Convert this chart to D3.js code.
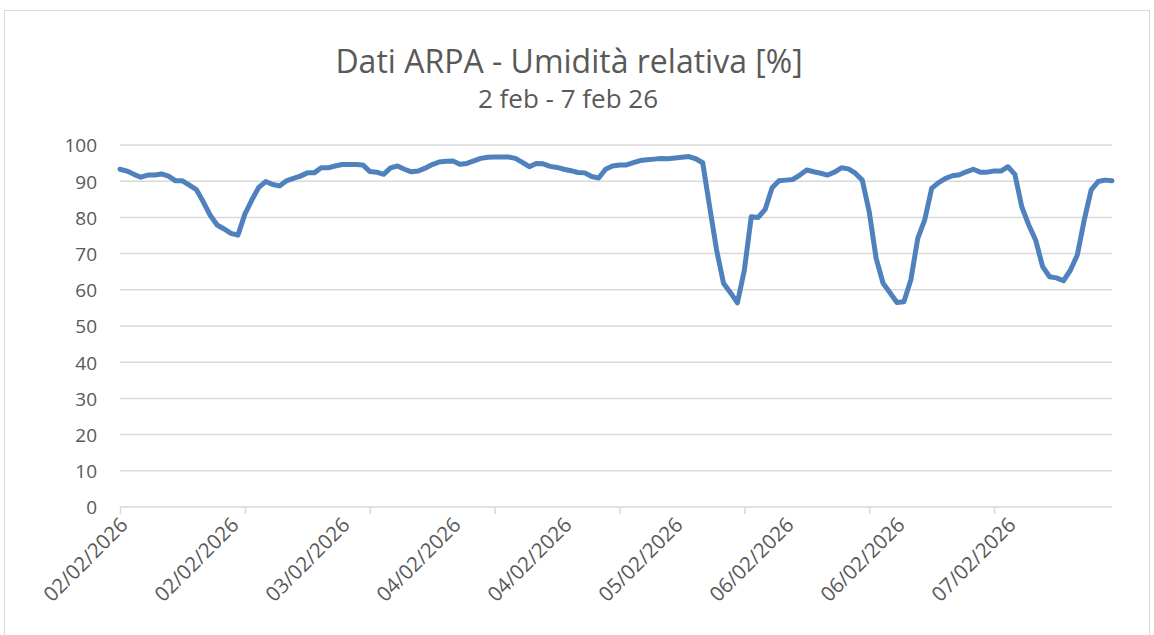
<!DOCTYPE html>
<html>
<head>
<meta charset="utf-8" />
<title>Dati ARPA - Umidità relativa</title>
<script src="https://cdn.jsdelivr.net/npm/d3@7/dist/d3.min.js"></script>
<style>
    body { margin: 0; background: #fff; overflow: hidden; }
    text { font-family: "Open Sans", "Noto Sans", sans-serif; fill: #595959; }
</style>
</head>
<body>
<div id="chart"></div>
<script>
    // titoli
    var title = "Dati ARPA - Umidità relativa [%]";
    var subtitle = "2 feb - 7 feb 26";

    // misure orarie dal 02/02/2026 00:00 (144 ore)
    var startDate = new Date(2026, 1, 2, 0, 0);
    var humidity = [
        93.3, 92.8, 91.9, 91.1, 91.7, 91.7, 92.0, 91.4, 90.1, 90.1, 88.9, 87.7,
        84.3, 80.6, 77.9, 76.8, 75.6, 75.1, 80.9, 84.8, 88.3, 89.9, 89.1, 88.7,
        90.1, 90.8, 91.4, 92.3, 92.3, 93.7, 93.7, 94.2, 94.6, 94.6, 94.6, 94.5,
        92.7, 92.5, 91.9, 93.7, 94.2, 93.3, 92.6, 92.8, 93.6, 94.6, 95.3, 95.5,
        95.6, 94.7, 94.9, 95.6, 96.3, 96.6, 96.7, 96.7, 96.7, 96.3, 95.2, 94.0,
        94.9, 94.8, 94.1, 93.8, 93.3, 92.9, 92.4, 92.3, 91.3, 90.9, 93.3, 94.2,
        94.5, 94.5, 95.1, 95.7, 95.9, 96.1, 96.3, 96.2, 96.4, 96.6, 96.8, 96.2,
        95.1, 82.9, 71.0, 61.8, 59.2, 56.4, 65.4, 80.2, 80.0, 82.2, 88.2, 90.1,
        90.3, 90.5, 91.7, 93.1, 92.6, 92.2, 91.7, 92.5, 93.7, 93.4, 92.2, 90.3,
        81.6, 68.7, 61.8, 59.2, 56.5, 56.7, 62.7, 74.2, 79.3, 88.0, 89.6, 90.8,
        91.5, 91.8, 92.6, 93.3, 92.5, 92.5, 92.8, 92.8, 94.0, 91.9, 82.9, 77.9,
        73.7, 66.4, 63.6, 63.3, 62.5, 65.4, 69.6, 79.3, 87.6, 89.9, 90.3, 90.1
    ];
    var yTicks = [0, 10, 20, 30, 40, 50, 60, 70, 80, 90, 100];
    var labelEvery = 16;   // etichette ogni 16 ore
    var tickEvery = 18;    // segni di graduazione ogni 18 ore

    var categories = humidity.map(function (d, i) { return d3.timeHour.offset(startDate, i); });
    var fmt = d3.timeFormat("%d/%m/%Y");

    var width = 1154, height = 635;
    var margin = { left: 120, right: 42, top: 145, bottom: 128 };

    var svg = d3.select("#chart").append("svg")
        .attr("width", width)
        .attr("height", height);

    // bordo area grafico
    svg.append("rect")
        .attr("x", 4.5).attr("y", 10.5)
        .attr("width", 1145).attr("height", 640)
        .attr("fill", "none")
        .attr("stroke", "#d9d9d9")
        .attr("stroke-width", 1);

    var x = d3.scalePoint()
        .domain(d3.range(humidity.length))
        .range([margin.left, width - margin.right]);

    var y = d3.scaleLinear()
        .domain([0, 100])
        .range([height - margin.bottom, margin.top]);

    // griglia orizzontale
    svg.append("g")
        .selectAll("line")
        .data(yTicks.filter(function (d) { return d > 0; }))
        .enter().append("line")
        .attr("x1", margin.left).attr("x2", width - margin.right)
        .attr("y1", function (d) { return y(d); })
        .attr("y2", function (d) { return y(d); })
        .attr("stroke", "#d9d9d9")
        .attr("stroke-width", 1.5);

    // asse y
    var yAxis = svg.append("g")
        .attr("transform", "translate(" + margin.left + ",0)")
        .call(d3.axisLeft(y).tickValues(yTicks).tickSize(0).tickPadding(23));
    yAxis.select(".domain").remove();
    yAxis.selectAll("text")
        .style("font-size", "19px")
        .attr("fill", "#595959")
        .attr("dy", "0.36em");

    // asse x: segni
    var xTicks = d3.range(0, humidity.length, tickEvery);
    var xAxisTicks = svg.append("g")
        .attr("transform", "translate(0," + y(0) + ")")
        .call(d3.axisBottom(x).tickValues(xTicks).tickSize(7).tickFormat(""));
    xAxisTicks.select(".domain")
        .attr("d", "M" + margin.left + ",0H" + (width - margin.right))
        .attr("stroke", "#d9d9d9")
        .attr("stroke-width", 1.5);
    xAxisTicks.selectAll(".tick line")
        .attr("stroke", "#d9d9d9")
        .attr("stroke-width", 1.5);

    // asse x: etichette ruotate
    var xLabels = d3.range(0, humidity.length, labelEvery);
    svg.append("g")
        .selectAll("text")
        .data(xLabels)
        .enter().append("text")
        .attr("transform", function (d) {
            return "translate(" + (x(d) - 1) + "," + (y(0) + 9) + ") rotate(-45)";
        })
        .attr("text-anchor", "end")
        .attr("dy", "0.7em")
        .style("font-size", "20.5px")
        .text(function (d) { return fmt(categories[d]); });

    // linea
    var line = d3.line()
        .x(function (d, i) { return x(i); })
        .y(function (d) { return y(d); });

    svg.append("path")
        .datum(humidity)
        .attr("d", line)
        .attr("fill", "none")
        .attr("stroke", "#4f81bd")
        .attr("stroke-width", 5)
        .attr("stroke-linejoin", "round")
        .attr("stroke-linecap", "round");

    // titoli
    svg.append("text")
        .attr("x", 569).attr("y", 73)
        .attr("text-anchor", "middle")
        .style("font-size", "32px")
        .text(title);

    svg.append("text")
        .attr("x", 568).attr("y", 108)
        .attr("text-anchor", "middle")
        .style("font-size", "26px")
        .text(subtitle);
</script>
</body>
</html>
